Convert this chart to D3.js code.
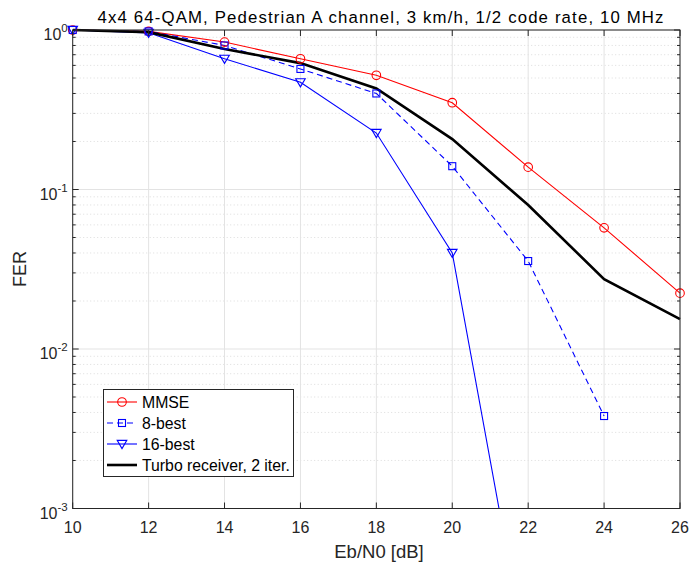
<!DOCTYPE html>
<html><head><meta charset="utf-8">
<script src="https://cdn.jsdelivr.net/npm/d3@7"></script>
<style>body{margin:0;background:#fff;} svg{display:block;font-family:"Liberation Sans",Arial,sans-serif;}</style>
</head><body><svg id="c" width="693" height="568"></svg>
<script>
const ebn0 = [10, 12, 14, 16, 18, 20, 22, 24, 26];
const mmse = [1.0, 0.98, 0.84, 0.66, 0.52, 0.35, 0.138, 0.0575, 0.0224];
const best8 = [1.0, 0.98, 0.80, 0.57, 0.40, 0.14, 0.0356, 0.0038];
const best16 = [1.0, 0.96, 0.66, 0.47, 0.226, 0.04, 0.0001];
const turbo = [1.0, 0.97, 0.76, 0.62, 0.43, 0.207, 0.08, 0.0274, 0.0154];
const xTicks = [10, 12, 14, 16, 18, 20, 22, 24, 26];
const yTicks = [1, 0.1, 0.01, 0.001];
const yTickExp = ["0", "-1", "-2", "-3"];
const titleText = "4x4 64-QAM, Pedestrian A channel, 3 km/h, 1/2 code rate, 10 MHz";
const xLabel = "Eb/N0 [dB]";
const yLabel = "FER";

const svg = d3.select("#c");
const L = 72.7, R = 680, T = 30, B = 508.5;
const x = d3.scaleLinear().domain([10, 26]).range([L, R]);
const y = d3.scaleLog().domain([0.001, 1]).range([B, T]);
const axisCol = "#262626";

// minor grid (dotted)
const minor = [];
for (let e = -3; e < 0; e++) for (let k = 2; k <= 9; k++) minor.push(k * Math.pow(10, e));
svg.append("g").selectAll("line").data(minor).join("line")
  .attr("x1", L).attr("x2", R).attr("y1", d => y(d)).attr("y2", d => y(d))
  .attr("stroke", "#d4d4d4").attr("stroke-width", 0.8).attr("stroke-dasharray", "1,2.5");
// major grid
svg.append("g").selectAll("line").data(xTicks).join("line")
  .attr("x1", d => x(d)).attr("x2", d => x(d)).attr("y1", T).attr("y2", B)
  .attr("stroke", "#e3e3e3").attr("stroke-width", 1);
svg.append("g").selectAll("line").data(yTicks).join("line")
  .attr("x1", L).attr("x2", R).attr("y1", d => y(d)).attr("y2", d => y(d))
  .attr("stroke", "#e3e3e3").attr("stroke-width", 1);

// data lines
svg.append("clipPath").attr("id", "pc").append("rect")
  .attr("x", L).attr("y", T - 6).attr("width", R - L + 6).attr("height", B - T + 6);
const gData = svg.append("g");
const line = d3.line().x(d => x(d[0])).y(d => y(d[1]));
function series(vals, color, width, dash) {
  const pts = vals.map((v, i) => [ebn0[i], v]);
  gData.append("path").attr("d", line(pts)).attr("fill", "none")
    .attr("stroke", color).attr("stroke-width", width)
    .attr("stroke-dasharray", dash || null).attr("clip-path", "url(#pc)");
  return pts.filter(p => p[1] >= 0.001);
}
const pM = series(mmse, "#ff0000", 1.1);
const p8 = series(best8, "#0000ff", 1.1, "6,4");
const p16 = series(best16, "#0000ff", 1.1);
series(turbo, "#000000", 2.6);

function circleM(g, cx, cy, col) {
  g.append("circle").attr("cx", cx).attr("cy", cy).attr("r", 4.3)
    .attr("fill", "none").attr("stroke", col).attr("stroke-width", 1.1);
}
function squareM(g, cx, cy, col) {
  g.append("rect").attr("x", cx - 3.5).attr("y", cy - 3.5).attr("width", 7).attr("height", 7)
    .attr("fill", "none").attr("stroke", col).attr("stroke-width", 1.1);
}
function triM(g, cx, cy, col) {
  const s = 4.8;
  g.append("path").attr("d", `M${cx - s},${cy - s * 0.75}L${cx + s},${cy - s * 0.75}L${cx},${cy + s * 0.95}Z`)
    .attr("fill", "none").attr("stroke", col).attr("stroke-width", 1.1);
}
pM.forEach(p => circleM(gData, x(p[0]), y(p[1]), "#ff0000"));
p8.forEach(p => squareM(gData, x(p[0]), y(p[1]), "#0000ff"));
p16.forEach(p => triM(gData, x(p[0]), y(p[1]), "#0000ff"));

// axes box & ticks
const gA = svg.append("g");
gA.append("rect").attr("x", L).attr("y", T).attr("width", R - L).attr("height", B - T)
  .attr("fill", "none").attr("stroke", axisCol).attr("stroke-width", 1);
const tl = 6;
xTicks.forEach(t => {
  gA.append("line").attr("x1", x(t)).attr("x2", x(t)).attr("y1", B).attr("y2", B - tl).attr("stroke", axisCol);
  gA.append("line").attr("x1", x(t)).attr("x2", x(t)).attr("y1", T).attr("y2", T + tl).attr("stroke", axisCol);
  gA.append("text").attr("x", x(t)).attr("y", 533).attr("text-anchor", "middle")
    .attr("font-size", 16).attr("fill", axisCol).text(t);
});
yTicks.forEach(t => {
  gA.append("line").attr("x1", L).attr("x2", L + tl).attr("y1", y(t)).attr("y2", y(t)).attr("stroke", axisCol);
  gA.append("line").attr("x1", R).attr("x2", R - tl).attr("y1", y(t)).attr("y2", y(t)).attr("stroke", axisCol);
});
minor.forEach(t => {
  gA.append("line").attr("x1", L).attr("x2", L + 3).attr("y1", y(t)).attr("y2", y(t)).attr("stroke", axisCol);
  gA.append("line").attr("x1", R).attr("x2", R - 3).attr("y1", y(t)).attr("y2", y(t)).attr("stroke", axisCol);
});
yTicks.forEach((t, i) => {
  const tx = gA.append("text").attr("x", L - 5).attr("y", y(t) + 10).attr("text-anchor", "end")
    .attr("font-size", 16).attr("fill", axisCol);
  tx.append("tspan").text("10");
  tx.append("tspan").attr("dy", -8).attr("font-size", 11.5).text(yTickExp[i]);
});

// labels
svg.append("text").attr("x", 97.5).attr("y", 22.5)
  .attr("font-size", 16.8).attr("fill", "#000")
  .attr("textLength", 566).attr("lengthAdjust", "spacing").text(titleText);
svg.append("text").attr("x", 379).attr("y", 558).attr("text-anchor", "middle")
  .attr("font-size", 18.5).attr("fill", axisCol).text(xLabel);
svg.append("text").attr("transform", `translate(26,269) rotate(-90)`).attr("text-anchor", "middle")
  .attr("font-size", 18).attr("fill", axisCol).text(yLabel);

// legend
const legendItems = [
  {name: "MMSE", color: "#ff0000", w: 1.1, dash: null, m: circleM},
  {name: "8-best", color: "#0000ff", w: 1.1, dash: "6,4", m: squareM},
  {name: "16-best", color: "#0000ff", w: 1.1, dash: null, m: triM},
  {name: "Turbo receiver, 2 iter.", color: "#000000", w: 2.6, dash: null, m: null}
];
const gL = svg.append("g");
gL.append("rect").attr("x", 103.5).attr("y", 389.5).attr("width", 190).attr("height", 87)
  .attr("fill", "#fff").attr("stroke", axisCol).attr("stroke-width", 1);
legendItems.forEach((it, i) => {
  const ly = 402 + i * 21;
  gL.append("line").attr("x1", 107).attr("x2", 137).attr("y1", ly).attr("y2", ly)
    .attr("stroke", it.color).attr("stroke-width", it.w).attr("stroke-dasharray", it.dash);
  if (it.m) it.m(gL, 122, ly, it.color);
  gL.append("text").attr("x", 142).attr("y", ly + 5.5).attr("font-size", 15.8).attr("fill", "#000").text(it.name);
});
</script></body></html>
